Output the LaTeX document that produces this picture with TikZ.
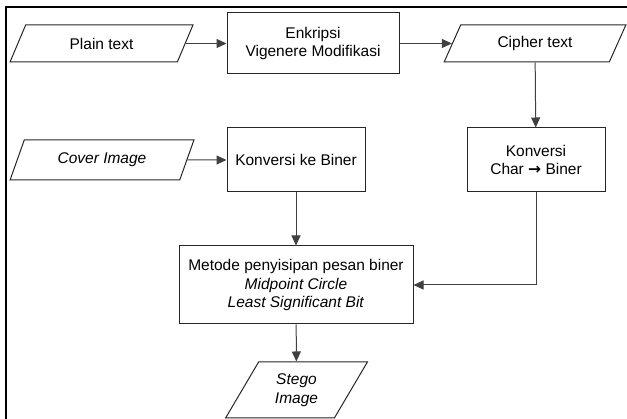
\documentclass[tikz,border=0pt]{standalone}
\usepackage{fontspec}
\setmainfont{Liberation Sans}
\newfontfamily\arrowfont{DejaVu Sans}
\usetikzlibrary{shapes.geometric,arrows.meta}

\begin{document}
\begin{tikzpicture}
[x=1pt,y=-1pt,
  boxDecorate/.style={shape=rectangle,draw=black!85,line width=1pt,inner sep=2pt,align=center},
  ioDecorate/.style={shape=trapezium,trapezium left angle=60,trapezium right angle=120,
    trapezium stretches=true,draw=black!85,line width=1pt,inner sep=0pt,align=center},
  lineDecorate/.style={draw=black!75,line width=1pt,-{Triangle[length=10pt,width=9pt]}},
  font=\fontsize{15.5}{18.5}\selectfont]
\useasboundingbox (0,0) rectangle (627,419);
%% frame
\draw[line width=2pt] (6,419) -- (6,7.5) -- (627,7.5);
%% nodes or vertices
\node (plain)  at (101.5,43.5) [ioDecorate,minimum width=183pt,minimum height=37pt] {Plain text};
\node (cipher) at (535,43.5)   [ioDecorate,minimum width=182pt,minimum height=37pt] {Cipher text};
\node (cover)  at (102,160)    [ioDecorate,minimum width=184pt,minimum height=40pt] {\textit{Cover Image}};
\node (stego)  at (296.5,390)  [ioDecorate,minimum width=143pt,minimum height=56pt] {\textit{Stego}\\\textit{Image}};
\node (enkripsi)  at (313,43.5) [boxDecorate,minimum width=172pt,minimum height=61pt] {Enkripsi\\Vigenere Modifikasi};
\node (konvBiner) at (296,160)  [boxDecorate,minimum width=138pt,minimum height=64pt] {Konversi ke Biner};
\node (konvChar)  at (536,160)  [boxDecorate,minimum width=138pt,minimum height=64pt] {Konversi\\Char {\arrowfont\bfseries →} Biner};
\node (metode)    at (296,285)  [boxDecorate,minimum width=234pt,minimum height=78pt]
  {Metode penyisipan pesan biner\\\textit{Midpoint Circle}\\\textit{Least Significant Bit}};
%% edges or lines
\path
\foreach \startnode/\endnode in {
  plain/enkripsi, enkripsi/cipher, cipher/konvChar,
  cover/konvBiner, konvBiner/metode, metode/stego}
{
  (\startnode) edge[lineDecorate] (\endnode)
};
\draw[lineDecorate] (konvChar) |- (metode);
\end{tikzpicture}
\end{document}
